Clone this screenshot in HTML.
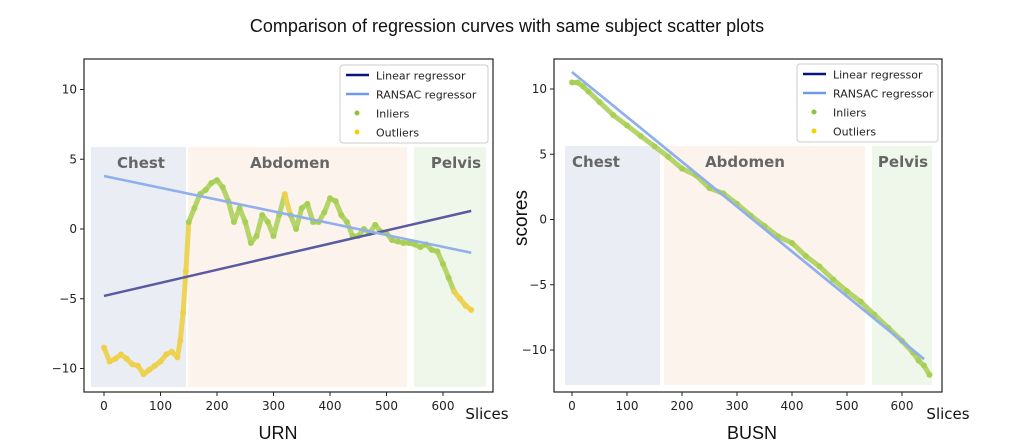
<!DOCTYPE html>
<html><head><meta charset="utf-8"><style>
html,body{margin:0;padding:0;background:#fff;width:1014px;height:447px;overflow:hidden}
svg{display:block;font-family:"DejaVu Sans","Liberation Sans",sans-serif}
</style></head><body>
<svg id="chart" width="1014" height="447" viewBox="0 0 1014 447">
<text x="507" y="32" text-anchor="middle" font-family="Liberation Sans, sans-serif" font-size="18" fill="#111">Comparison of regression curves with same subject scatter plots</text>
<g id="left"></g>
<g id="right"></g>
</svg>
<script>
const leftX=[0,10,20,30,40,50,60,70,80,90,100,110,120,130,135,140,145,150,160,170,180,190,200,210,220,230,240,250,260,270,280,290,300,310,320,330,340,350,360,370,380,390,400,410,420,430,440,450,460,470,480,490,500,510,520,530,540,550,560,570,580,590,600,610,620,630,640,650];
const leftY=[-8.5,-9.5,-9.3,-9.0,-9.3,-9.7,-9.8,-10.4,-10.1,-9.8,-9.5,-9.0,-8.8,-9.2,-8.0,-6.0,-3.0,0.5,1.5,2.5,2.8,3.3,3.5,3.0,2.0,0.5,1.5,0.5,-1.0,-0.5,1.0,0.5,-0.5,1.0,2.5,1.0,0.0,1.5,1.8,0.5,0.5,1.2,2.2,2.0,1.0,0.5,-0.5,-0.5,0.0,-0.3,0.3,-0.2,-0.3,-0.8,-0.9,-1.0,-1.0,-1.1,-1.3,-1.1,-1.5,-1.6,-2.5,-3.5,-4.5,-5.0,-5.5,-5.8];
const leftOutlier=[1,1,1,1,1,1,1,1,1,1,1,1,1,1,1,1,1,0,0,0,0,0,0,0,0,0,0,0,0,0,0,0,0,0,1,0,0,0,0,0,0,0,0,0,0,0,0,0,0,0,0,0,0,0,0,0,0,0,0,0,0,0,0,0,1,1,1,1];
const leftLinear=[[0,-4.8],[650,1.3]];
const leftRansac=[[0,3.8],[650,-1.7]];
const rightX=[0,10,20,30,50,75,100,125,150,175,200,225,250,275,300,325,350,375,400,425,450,475,500,525,550,575,600,620,630,640,650];
const rightY=[10.5,10.5,10.2,9.8,9.0,8.0,7.2,6.4,5.6,4.8,3.9,3.4,2.4,2.0,1.2,0.3,-0.5,-1.3,-1.8,-2.8,-3.6,-4.6,-5.5,-6.3,-7.3,-8.3,-9.3,-10.2,-10.8,-11.2,-11.9];
const rightLinear=[[0,11.3],[640,-10.7]];
const rightRansac=[[0,11.3],[640,-10.7]];
const xTicks=[0,100,200,300,400,500,600];
const yTicksL=[-10,-5,0,5,10];
const yTicksR=[-10,-5,0,5,10];
const NS="http://www.w3.org/2000/svg";
function mk(p,t,a){const e=document.createElementNS(NS,t);for(const k in a)e.setAttribute(k,a[k]);p.appendChild(e);return e;}
function panel(g,cfg){
  const sx=v=>cfg.x0+v*cfg.kx, sy=v=>cfg.y0-v*cfg.ky;
  cfg.bands.forEach(b=>{
    const r=mk(g,'rect',{x:b[0],y:b[1],width:b[2]-b[0],height:b[3]-b[1],fill:b[4]});
    
    
    const t=mk(g,'text',{x:b[6],y:b[1]+21,'text-anchor':'middle','font-size':15,'font-weight':'bold',fill:'#666'});
    t.textContent=b[5];
    
    
  });
  const xs=cfg.xs, ys=cfg.ys;
  for(let i=0;i<xs.length-1;i++){
    const o=cfg.out?cfg.out[i]:0;
    const l=mk(g,'line',{x1:sx(xs[i]),y1:sy(ys[i]),x2:sx(xs[i+1]),y2:sy(ys[i+1]),stroke:o?'#ecd458':'#b5d46a','stroke-width':5,'stroke-linecap':'round'});
    
    
  }
  for(let i=0;i<xs.length;i++){
    const o=cfg.out?cfg.out[i]:0;
    const c=mk(g,'circle',{cx:sx(xs[i]),cy:sy(ys[i]),r:3,fill:o?'#f0d04a':'#a8cf55'});
    
    
  }
  const ln=mk(g,'line',{x1:sx(cfg.lin[0][0]),y1:sy(cfg.lin[0][1]),x2:sx(cfg.lin[1][0]),y2:sy(cfg.lin[1][1]),stroke:cfg.linColor,'stroke-width':2.5});
  
  
  const rn=mk(g,'line',{x1:sx(cfg.ran[0][0]),y1:sy(cfg.ran[0][1]),x2:sx(cfg.ran[1][0]),y2:sy(cfg.ran[1][1]),stroke:'#8fb0ec','stroke-width':2.5});
  
  
  const bx=mk(g,'rect',{x:cfg.box[0],y:cfg.box[1],width:cfg.box[2]-cfg.box[0],height:cfg.box[3]-cfg.box[1],fill:'none',stroke:'#222','stroke-width':1.2});
  
  
  xTicks.forEach(v=>{
    mk(g,'line',{x1:sx(v),y1:cfg.box[3],x2:sx(v),y2:cfg.box[3]+4,stroke:'#222'});
    const t=mk(g,'text',{x:sx(v),y:cfg.box[3]+18,'text-anchor':'middle','font-size':12,fill:'#222'});
    t.textContent=v;
    
    
  });
  cfg.yt.forEach(v=>{
    mk(g,'line',{x1:cfg.box[0],y1:sy(v),x2:cfg.box[0]-4,y2:sy(v),stroke:'#222'});
    const t=mk(g,'text',{x:cfg.box[0]-7,y:sy(v)+4,'text-anchor':'end','font-size':12,fill:'#222'});
    t.textContent=v<0?'\u2212'+(-v):v;
    
    
  });
  const L=cfg.leg;
  const lg=mk(g,'g',{});
  
  
  mk(lg,'rect',{x:L[0],y:L[1],width:L[2],height:78,rx:3,fill:'#fff',stroke:'#ccc'});
  const items=[['Linear regressor','line','#0a1280'],['RANSAC regressor','line','#6f9ae8'],['Inliers','dot','#8cc63f'],['Outliers','dot','#f5d000']];
  items.forEach((it,i)=>{
    const yy=L[1]+10+i*19;
    if(it[1]=='line')mk(lg,'line',{x1:L[0]+6,y1:yy,x2:L[0]+29,y2:yy,stroke:it[2],'stroke-width':2.5});
    else mk(lg,'circle',{cx:L[0]+17,cy:yy,r:2.5,fill:it[2]});
    const t=mk(lg,'text',{x:L[0]+36,y:yy+4.5,'font-size':11,fill:'#222'});
    t.textContent=it[0];
    
    
  });
  const sl=mk(g,'text',{x:cfg.slx,y:419,'text-anchor':'middle','font-size':15,fill:'#111'});
  sl.textContent='Slices';
  
  
  const xt=mk(g,'text',{x:cfg.xtx,y:439,'text-anchor':'middle','font-size':18,fill:'#111','font-family':'Liberation Sans, sans-serif'});
  xt.textContent=cfg.xtitle;
  
  
}
panel(document.getElementById('left'),{x0:104,kx:0.565,y0:229,ky:13.95,xs:leftX,ys:leftY,out:leftOutlier,lin:leftLinear,ran:leftRansac,linColor:'#5a5aa0',
  box:[84,59,493,392],yt:yTicksL,leg:[340,65,148],slx:487,xtx:278,xtitle:'URN',
  bands:[[91,147,186,387,'#eaeef4','Chest',141],[188,147,407,387,'#fcf3ec','Abdomen',290],[414,147,486,387,'#eff7ea','Pelvis',456]]});
panel(document.getElementById('right'),{x0:572,kx:0.55,y0:219.5,ky:13.05,xs:rightX,ys:rightY,out:null,lin:rightLinear,ran:rightRansac,linColor:'#6f9ae8',
  box:[554,59,942,392],yt:yTicksR,leg:[797,64,141],slx:948,xtx:752,xtitle:'BUSN',
  bands:[[565,146,660,385,'#eaeef4','Chest',596],[664,146,865,385,'#fcf3ec','Abdomen',745],[872,146,932,385,'#eff7ea','Pelvis',903]]});
const st=mk(document.getElementById('right'),'text',{x:527,y:218,'text-anchor':'middle','font-size':19,fill:'#111',transform:'rotate(-90 527 218)','font-family':'Liberation Sans, sans-serif'});
st.textContent='scores';


</script>
</body></html>
